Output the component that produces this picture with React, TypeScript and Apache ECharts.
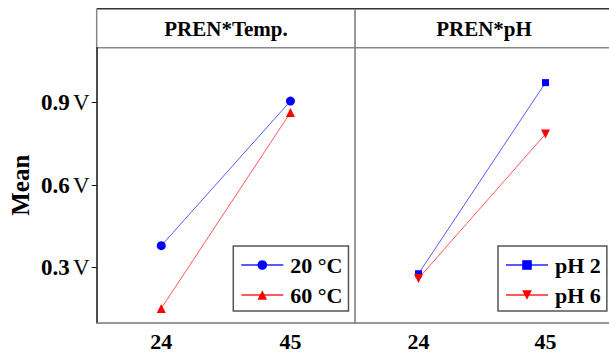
import React, { useEffect, useRef } from "react";
import * as echarts from "echarts";

const categories = ["24", "45"];
const temp20 = [0.38, 0.906];
const temp60 = [0.152, 0.864];
const ph2 = [0.278, 0.973];
const ph6 = [0.261, 0.786];
const yTicks = [0.3, 0.6, 0.9];
const panelTitles = ["PREN*Temp.", "PREN*pH"];
const legendTemp = ["20 °C", "60 °C"];
const legendPh = ["pH 2", "pH 6"];

const FONT = "'Liberation Serif', 'Times New Roman', serif";
const BLUE = "#0000ff";
const RED = "#ff0000";
const BLUE_LINE = "#5a5aff";
const RED_LINE = "#ff5a5a";

export default function App() {
  const ref = useRef<HTMLDivElement>(null);
  useEffect(() => {
    document.body.style.margin = "0";
    if (!ref.current) return;
    const chart = echarts.init(ref.current, null, { renderer: "svg" });
    const gridTop = 47.7;
    const gridBottom = 354 - 322.7;
    const yBase = {
      type: "value" as const,
      min: 0.1,
      max: 1.1,
      splitLine: { show: false },
    };
    const legendCommon = {
      orient: "vertical" as const,
      itemWidth: 42,
      itemHeight: 12,
      itemGap: 8,
      padding: [8, 6, 5, 7],
      borderColor: "#555",
      borderWidth: 1.5,
      backgroundColor: "#fff",
      textStyle: {
        fontFamily: FONT,
        fontWeight: "bold" as const,
        fontSize: 22,
        color: "#000",
        padding: [0, 0, 0, 2],
      },
    };
    chart.setOption({
      animation: false,
      backgroundColor: "#fff",
      grid: [
        { left: 96.7, width: 258.3, top: gridTop, bottom: gridBottom },
        { left: 355, width: 258, top: gridTop, bottom: gridBottom },
      ],
      xAxis: [0, 1].map((i) => ({
        type: "category",
        gridIndex: i,
        data: categories,
        boundaryGap: true,
        axisLine: { show: true, lineStyle: { color: "#777", width: 1.5 } },
        axisTick: { show: false },
        axisLabel: {
          margin: 8,
          fontFamily: FONT,
          fontWeight: "bold",
          fontSize: 22,
          color: "#000",
        },
      })),
      yAxis: [
        {
          ...yBase,
          gridIndex: 0,
          name: "Mean",
          nameLocation: "middle",
          nameGap: 64,
          nameTextStyle: {
            fontFamily: FONT,
            fontWeight: "bold",
            fontSize: 25,
            color: "#000",
          },
          axisLine: { show: true, lineStyle: { color: "#111", width: 1.5 } },
          axisTick: {
            show: true,
            length: 5,
            customValues: yTicks,
            lineStyle: { color: "#111" },
          },
          axisLabel: {
            margin: 7,
            customValues: yTicks,
            formatter: (v: number) => `{b|${v.toFixed(1)}} {n|V}`,
            rich: {
              b: { fontFamily: FONT, fontWeight: "bold", fontSize: 23, color: "#000" },
              n: { fontFamily: FONT, fontWeight: "normal", fontSize: 23, color: "#000" },
            },
          },
        },
        { ...yBase, gridIndex: 1, show: false },
      ],
      legend: [
        { ...legendCommon, data: legendTemp, left: 233.3, top: 246 },
        { ...legendCommon, data: legendPh, left: 498, top: 246 },
      ],
      series: [
        {
          name: legendTemp[0],
          type: "line",
          xAxisIndex: 0,
          yAxisIndex: 0,
          data: temp20,
          symbol: "circle",
          symbolSize: 9,
          itemStyle: { color: BLUE },
          lineStyle: { color: BLUE_LINE, width: 1 },
        },
        {
          name: legendTemp[1],
          type: "line",
          xAxisIndex: 0,
          yAxisIndex: 0,
          data: temp60,
          symbol: "triangle",
          symbolSize: 9,
          itemStyle: { color: RED },
          lineStyle: { color: RED_LINE, width: 1 },
        },
        {
          name: legendPh[0],
          type: "line",
          xAxisIndex: 1,
          yAxisIndex: 1,
          data: ph2,
          symbol: "rect",
          symbolSize: 7,
          itemStyle: { color: BLUE },
          lineStyle: { color: BLUE_LINE, width: 1 },
        },
        {
          name: legendPh[1],
          type: "line",
          xAxisIndex: 1,
          yAxisIndex: 1,
          data: ph6,
          symbol: "triangle",
          symbolRotate: 180,
          symbolSize: 9,
          itemStyle: { color: RED },
          lineStyle: { color: RED_LINE, width: 1 },
        },
      ],
      graphic: [
        {
          type: "line",
          shape: { x1: 96.7, y1: 8.7, x2: 609, y2: 8.7 },
          style: { stroke: "#333", lineWidth: 1.5 },
        },
        {
          type: "line",
          shape: { x1: 96.7, y1: 47.7, x2: 609, y2: 47.7 },
          style: { stroke: "#888", lineWidth: 1.5 },
        },
        {
          type: "line",
          shape: { x1: 96.7, y1: 8.7, x2: 96.7, y2: 47.7 },
          style: { stroke: "#888", lineWidth: 1.5 },
        },
        {
          type: "line",
          shape: { x1: 355, y1: 8.7, x2: 355, y2: 322.7 },
          style: { stroke: "#777", lineWidth: 1.5 },
        },
        {
          type: "text",
          x: 226,
          y: 28.5,
          style: {
            text: panelTitles[0],
            fontFamily: FONT,
            fontWeight: "bold",
            fontSize: 21,
            fill: "#000",
            align: "center",
            verticalAlign: "middle",
          },
        },
        {
          type: "text",
          x: 484,
          y: 28.5,
          style: {
            text: panelTitles[1],
            fontFamily: FONT,
            fontWeight: "bold",
            fontSize: 21,
            fill: "#000",
            align: "center",
            verticalAlign: "middle",
          },
        },
      ],
    });
    return () => chart.dispose();
  }, []);
  return <div ref={ref} style={{ width: 609, height: 354 }} />;
}
